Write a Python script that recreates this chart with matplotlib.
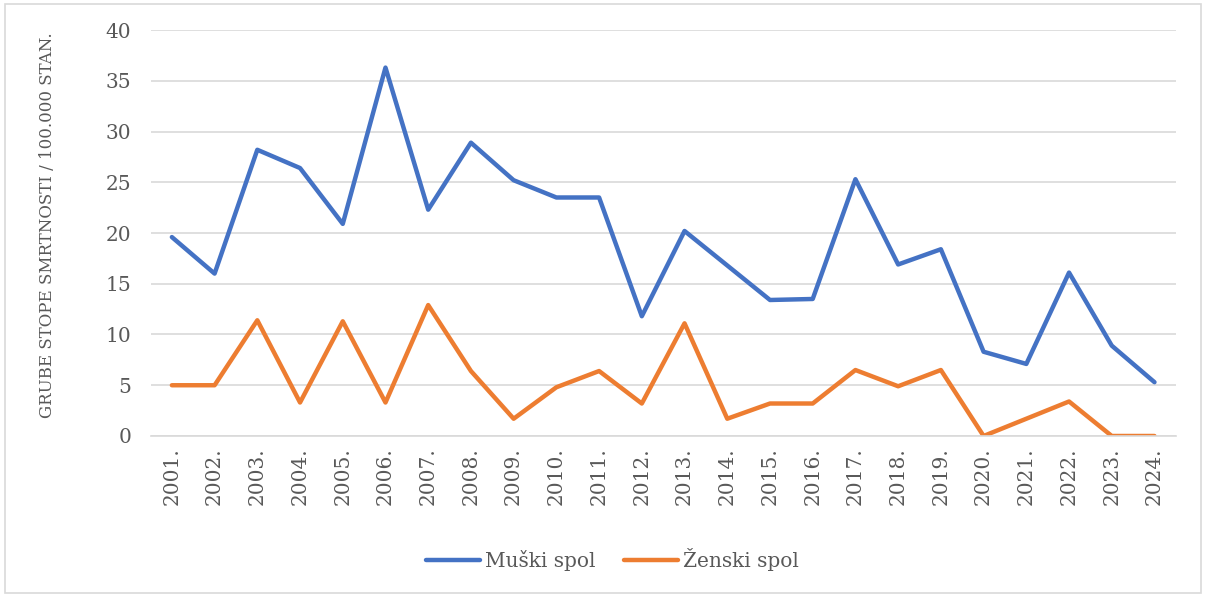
import matplotlib
matplotlib.use('Agg')
import matplotlib.pyplot as plt
from matplotlib.patches import Rectangle

# ========== 数据 ==========
years = [f"{y}." for y in range(2001, 2025)]
muski = [19.6, 16.0, 28.2, 26.4, 20.9, 36.3, 22.3, 28.9, 25.2, 23.5, 23.5, 11.8,
         20.2, 16.8, 13.4, 13.5, 25.3, 16.9, 18.4, 8.3, 7.1, 16.1, 8.9, 5.3]
zenski = [5.0, 5.0, 11.4, 3.3, 11.3, 3.3, 12.9, 6.4, 1.7, 4.8, 6.4, 3.2,
          11.1, 1.7, 3.2, 3.2, 6.5, 4.9, 6.5, 0.0, 1.7, 3.4, 0.0, 0.0]

plt.rcParams['font.family'] = ['DejaVu Serif']
txt = '#595959'

fig = plt.figure(figsize=(12.06, 5.97), dpi=100)
ax = fig.add_axes([0.1248, 0.2697, 0.8502, 0.68])

x = range(len(years))
ax.plot(x, muski, color='#4472C4', linewidth=3.2, label='Muški spol', solid_joinstyle='round', solid_capstyle='round')
ax.plot(x, zenski, color='#ED7D31', linewidth=3.2, label='Ženski spol', solid_joinstyle='round', solid_capstyle='round')

ax.set_xlim(-0.5, len(years) - 0.5)
ax.set_ylim(0, 40)
ax.set_yticks(range(0, 41, 5))
ax.set_xticks(list(x))
ax.set_xticklabels(years, rotation=90)
ax.yaxis.grid(True, color='#D9D9D9', linewidth=1.2)
ax.set_axisbelow(True)
for s in ax.spines.values():
    s.set_visible(False)
ax.spines['bottom'].set_visible(True)
ax.spines['bottom'].set_color('#D9D9D9')
ax.spines['bottom'].set_linewidth(1.2)
ax.tick_params(axis='both', length=0, labelsize=14.5, colors=txt, pad=8)
ax.tick_params(axis='y', pad=14)

# y 轴标题
fig.text(48 / 1206, 1 - 225 / 597, 'GRUBE STOPE SMRTNOSTI / 100.000 STAN.', rotation=90,
         ha='center', va='center', fontsize=12, color=txt)

leg = fig.legend(loc='center', bbox_to_anchor=(0.508, 0.062), ncol=2, frameon=False,
                 fontsize=14.5, handlelength=2.7, columnspacing=1.4, handletextpad=0.25)
for t in leg.get_texts():
    t.set_color(txt)

# 外边框
fig.patches.append(Rectangle((0.004, 0.006), 0.992, 0.988, transform=fig.transFigure,
                             fill=False, edgecolor='#D9D9D9', linewidth=1.2))

plt.savefig('out.png', dpi=100)
